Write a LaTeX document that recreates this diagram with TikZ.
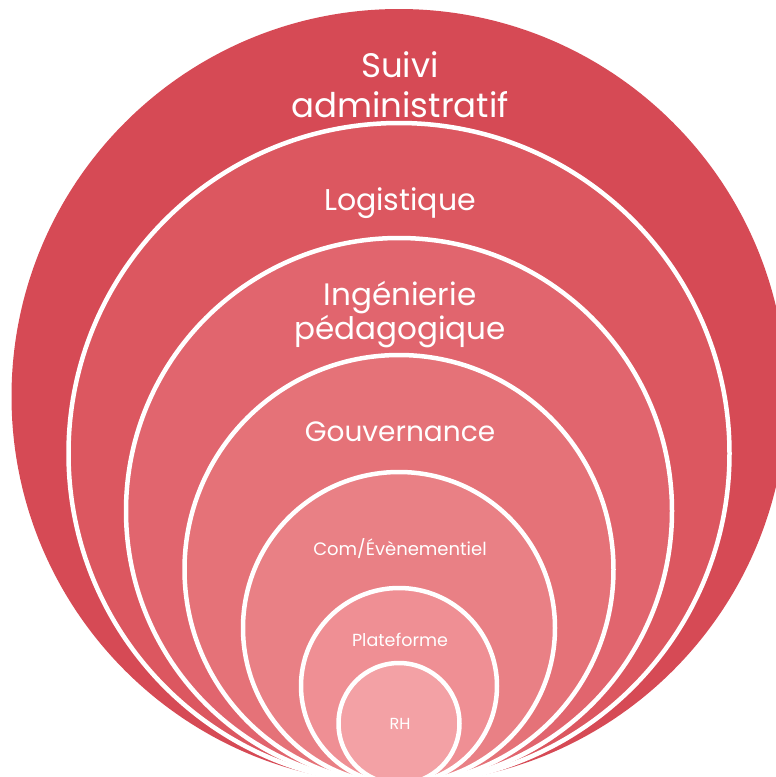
\documentclass[tikz,border=0pt]{standalone}
\usepackage{fontspec}
\setmainfont{Poppins}
\definecolor{c1}{RGB}{214,74,85}
\definecolor{c2}{RGB}{220,87,96}
\definecolor{c3}{RGB}{225,101,110}
\definecolor{c4}{RGB}{229,114,120}
\definecolor{c5}{RGB}{233,128,133}
\definecolor{c6}{RGB}{239,143,148}
\definecolor{c7}{RGB}{243,161,165}
\tikzset{
  ring/.style={draw=white, line width=4.5pt},
  lbl/.style={text=white, align=center, inner sep=0pt, anchor=base}
}
\begin{document}
\begin{tikzpicture}[x=1pt,y=-1pt]
\useasboundingbox (0,0) rectangle (776,777);
\begin{scope}
\clip (0,0) rectangle (776,777);
\fill[c1] (399,396.5) circle[radius=387.5pt];
\path[ring, fill=c2] (399,453.5) circle[radius=330.5pt];
\path[ring, fill=c3] (399,511) circle[radius=273pt];
\path[ring, fill=c4] (399,569.5) circle[radius=214.5pt];
\path[ring, fill=c5] (399,628) circle[radius=156pt];
\path[ring, fill=c6] (399,686) circle[radius=98pt];
\path[ring, fill=c7] (399,723.5) circle[radius=60.5pt];
\end{scope}
\node[lbl, font=\fontsize{34}{40}\selectfont] (suivi) at (400,117) {Suivi\\administratif};
\node[lbl, font=\fontsize{30}{34}\selectfont] (logi) at (400,210) {Logistique};
\node[lbl, font=\fontsize{31}{30}\selectfont] (inge) at (400,339) {Ingénierie\\pédagogique};
\node[lbl, font=\fontsize{28}{32}\selectfont] (gouv) at (400,441) {Gouvernance};
\node[lbl, font=\fontsize{18}{20}\selectfont] (com) at (400,555) {Com/Évènementiel};
\node[lbl, font=\fontsize{17.5}{20}\selectfont] (plat) at (400,646) {Plateforme};
\node[lbl, font=\fontsize{16}{20}\selectfont] (rh) at (400,729) {RH};
\end{tikzpicture}
\end{document}
